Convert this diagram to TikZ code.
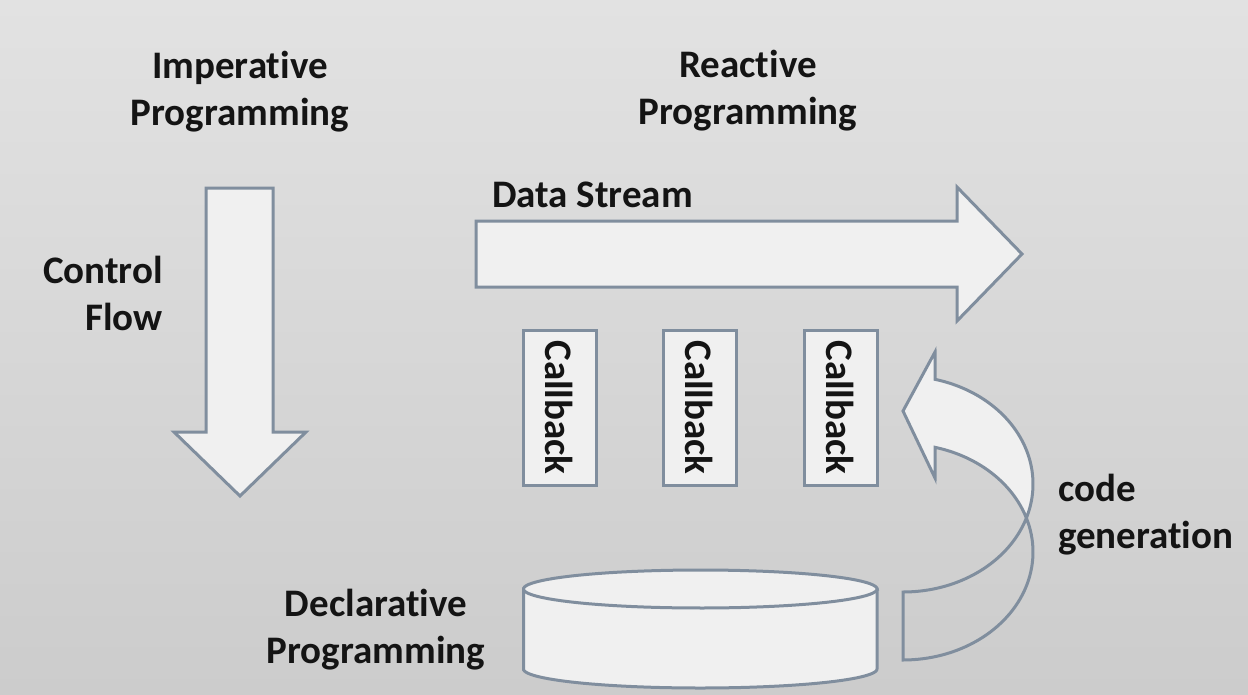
\documentclass[tikz,border=0pt]{standalone}
\usepackage{fontspec}
\setmainfont[Ligatures={NoCommon}]{Carlito}
\definecolor{edge}{RGB}{128,142,158}
\definecolor{shapefill}{RGB}{240,240,240}
\definecolor{bgtop}{RGB}{226,226,226}
\definecolor{bgbot}{RGB}{204,204,204}
\begin{document}
\begin{tikzpicture}[x=1pt,y=-1pt,
  lbl/.style={font=\fontsize{39}{47}\selectfont\bfseries, inner sep=0pt, text=black!92},
  shp/.style={draw=edge, line width=3pt, fill=shapefill, line join=miter},
  cbbox/.style={shp, rotate=-90, minimum width=155pt, minimum height=73pt, inner sep=0pt,
     font=\fontsize{39}{47}\selectfont\bfseries, text=black!92}]
\useasboundingbox (0,0) rectangle (1248,694);
\shade[top color=bgtop, bottom color=bgbot] (0,0) rectangle (1248,694);

% titles (anchor = baseline of the last line)
\node[lbl, anchor=base, align=center] (imp) at (240,125) {Imperative\\Programming};
\node[lbl, anchor=base, align=center] (rea) at (748,124) {Reactive\\Programming};
\node[lbl, anchor=base east, align=right] (cf) at (163,330) {Control\\Flow};
\node[lbl, anchor=base west] (ds) at (492,207) {Data Stream};
\node[lbl, anchor=base west, align=left] (cg) at (1058,548) {code\\generation};
\node[lbl, anchor=base, align=center] (dp) at (376,663) {Declarative\\Programming};

% down arrow
\draw[shp] (206,188) -- (273,188) -- (273,432) -- (306,432) -- (240,496)
  -- (174,432) -- (206,432) -- cycle;

% right arrow
\draw[shp] (476,221) -- (957,221) -- (957,187) -- (1022,254) -- (957,321)
  -- (957,287) -- (476,287) -- cycle;

% callbacks
\node[cbbox] (cb1) at (559.5,407.5) {Callback};
\node[cbbox] (cb2) at (699.5,407.5) {Callback};
\node[cbbox] (cb3) at (840.5,407.5) {Callback};

% cylinder
\path[shp] (523.5,669) -- (523.5,589) -- (877,589) -- (877,669)
  -- plot[domain=0:-180, samples=60] ({700.25+176.75*cos(\x)},{669-19*sin(\x)}) -- cycle;
\draw[shp] plot[domain=0:360, samples=90] ({700.25+176.75*cos(\x)},{589-19*sin(\x)}) -- cycle;

% curved arrow: back band
\draw[draw=edge, line width=3pt, line join=miter] (903,592) -- (903,660)
  -- plot[domain=-90:18.35, samples=50] ({903+130*cos(\x)},{552-108*sin(\x)})
  -- plot[domain=-18.35:-90, samples=50] ({903+130*cos(\x)},{484-108*sin(\x)}) -- cycle;
% curved arrow: front band with head
\draw[shp] plot[domain=-18.35:75.7, samples=60] ({903+130*cos(\x)},{484-108*sin(\x)})
  -- (935,352) -- (903,411) -- (935,478)
  -- plot[domain=75.7:18.35, samples=40] ({903+130*cos(\x)},{552-108*sin(\x)}) -- cycle;
\end{tikzpicture}
\end{document}
